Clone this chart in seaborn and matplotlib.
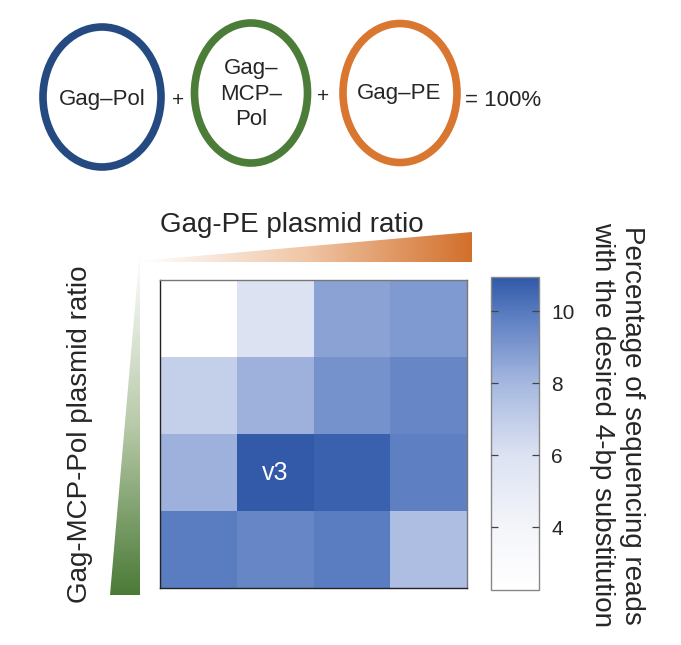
import numpy as np
import pandas as pd
import matplotlib
matplotlib.use("Agg")
import matplotlib.pyplot as plt
import seaborn as sns
from matplotlib.colors import LinearSegmentedColormap
from matplotlib.patches import Ellipse, Polygon

sns.set_style("white")
plt.rcParams['font.family'] = ['Liberation Sans', 'DejaVu Sans']

# ---- data ----
gag_pe_levels = ["PE1", "PE2", "PE3", "PE4"]          # columns (Gag-PE ratio, increasing)
gag_mcp_levels = ["MCP1", "MCP2", "MCP3", "MCP4"]     # rows (Gag-MCP-Pol ratio, increasing downward)
row_mcp1 = [2.3, 6.0, 8.7, 8.95]
row_mcp2 = [6.9, 8.2, 9.2, 9.6]
row_mcp3 = [8.2, 10.9, 10.7, 9.8]
row_mcp4 = [9.9, 9.6, 9.9, 7.7]
cell_labels = [["", "", "", ""],
               ["", "", "", ""],
               ["", "v3", "", ""],
               ["", "", "", ""]]
cbar_ticks = [4, 6, 8, 10]
vmin, vmax = 2.25, 10.95

df = pd.DataFrame([row_mcp1, row_mcp2, row_mcp3, row_mcp4],
                  index=gag_mcp_levels, columns=gag_pe_levels)

cmap = LinearSegmentedColormap.from_list(
    "wb", [(0.0, "#ffffff"), (0.2, "#f4f5fa"), (0.43, "#dce2f2"),
           (0.66, "#a6b8e0"), (0.89, "#577abf"), (1.0, "#3159a8")])

W, H = 681, 645
fig = plt.figure(figsize=(W / 100, H / 100), dpi=100)

# ---- overlay axes in pixel coordinates ----
ov = fig.add_axes([0, 0, 1, 1])
ov.set_xlim(0, W)
ov.set_ylim(H, 0)
ov.axis("off")

circ_lw = 5.5
ov.add_patch(Ellipse((102, 97), 118, 140, fill=False, ec="#254a81", lw=circ_lw))
ov.add_patch(Ellipse((251, 93), 113, 140, fill=False, ec="#4b7c38", lw=circ_lw))
ov.add_patch(Ellipse((400, 93), 114, 139, fill=False, ec="#d9762f", lw=circ_lw))
ov.text(102, 99, "Gag\u2013Pol", ha="center", va="center", fontsize=16)
ov.text(251, 94, "Gag\u2013\nMCP\u2013\nPol", ha="center", va="center", fontsize=16, linespacing=1.3)
ov.text(399, 93, "Gag\u2013PE", ha="center", va="center", fontsize=16)
ov.text(178, 100, "+", ha="center", va="center", fontsize=15)
ov.text(323, 97, "+", ha="center", va="center", fontsize=15)
ov.text(465, 100, "= 100%", ha="left", va="center", fontsize=16)

# orange gradient wedge
grad_h = np.linspace(0, 1, 256).reshape(1, -1)
cm_or = LinearSegmentedColormap.from_list("or", ["#ffffff", "#f0c6a6", "#d2702b"])
im = ov.imshow(grad_h, cmap=cm_or, extent=[140, 472, 262, 232], aspect="auto", zorder=1)
poly = Polygon([(140, 261), (472, 232), (472, 262), (140, 262)], closed=True,
               transform=ov.transData, fc="none", ec="none")
ov.add_patch(poly)
im.set_clip_path(poly)
ov.text(292, 232, "Gag-PE plasmid ratio", ha="center", va="baseline", fontsize=20)

# green gradient wedge
grad_v = np.linspace(0, 1, 256).reshape(-1, 1)
cm_gr = LinearSegmentedColormap.from_list("gr", ["#ffffff", "#b9cbab", "#4b7a36"])
im2 = ov.imshow(grad_v, cmap=cm_gr, extent=[110, 140, 595, 250], aspect="auto",
                origin="upper", zorder=1)
poly2 = Polygon([(140, 250), (140, 595), (110, 595)], closed=True,
                transform=ov.transData, fc="none", ec="none")
ov.add_patch(poly2)
im2.set_clip_path(poly2)
ov.text(80, 434, "Gag-MCP-Pol plasmid ratio", ha="center", va="center",
        rotation=90, fontsize=20)

# colorbar label
ov.text(617, 425, "Percentage of sequencing reads\nwith the desired 4-bp substitution",
        ha="center", va="center", rotation=270, fontsize=20, linespacing=1.2)

# ---- heatmap ----
ax = fig.add_axes([160 / W, 1 - 588 / H, 307 / W, 308 / H])
cax = fig.add_axes([491 / W, 1 - 590 / H, 48 / W, 313 / H])
sns.heatmap(df, ax=ax, cbar_ax=cax, cmap=cmap, vmin=vmin, vmax=vmax,
            annot=np.array(cell_labels), fmt="", annot_kws={"color": "white", "fontsize": 18},
            xticklabels=False, yticklabels=False, cbar_kws={"ticks": cbar_ticks})
for name, s in ax.spines.items():
    s.set_visible(True)
    s.set_linewidth(1.0)
    s.set_color("#222222" if name in ("left", "bottom") else "#777777")
ax.set_xlabel("")
ax.set_ylabel("")

cbar = ax.collections[0].colorbar
cbar.outline.set_edgecolor("#888888")
cbar.outline.set_linewidth(1.0)
cax.set_axisbelow(False)
cax.yaxis.set_ticks_position("both")
cax.tick_params(which="major", direction="in", left=True, right=True, length=5,
                width=0.9, color="#444444", labelsize=15, pad=9,
                labelleft=False, labelright=True)

fig.savefig("out.png", dpi=100)
